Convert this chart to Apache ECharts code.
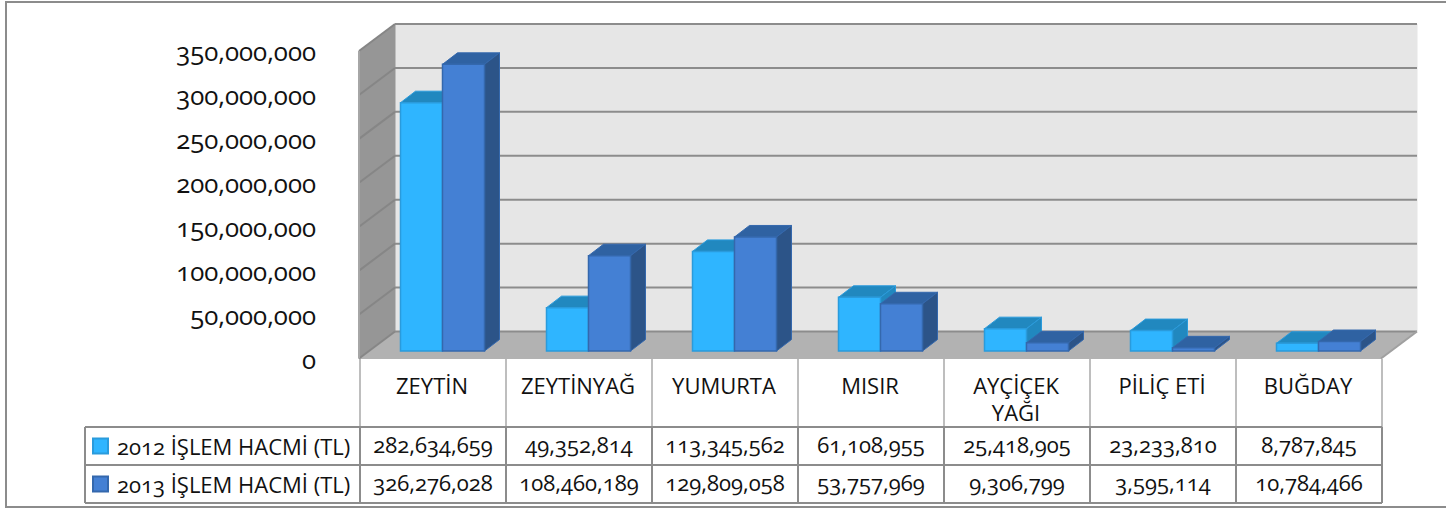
<!DOCTYPE html>
<html>
<head>
<meta charset="utf-8">
<style>
	html, body { margin: 0; padding: 0; background: #fff; }
	#chart { width: 1446px; height: 509px; font-feature-settings: "onum" 1; font-variant-numeric: oldstyle-nums; }
	#chart text { font-feature-settings: "onum" 1 !important; font-variant-numeric: oldstyle-nums !important; }
</style>
<script src="https://cdn.jsdelivr.net/npm/echarts@6/dist/echarts.min.js"></script>
</head>
<body>
<div id="chart"></div>
<script>
	const categories = ['ZEYTİN', 'ZEYTİNYAĞ', 'YUMURTA', 'MISIR', 'AYÇİÇEK\nYAĞI', 'PİLİÇ ETİ', 'BUĞDAY']
	const values2012 = [282634659, 49352814, 113345562, 61108955, 25418905, 23233810, 8787845]
	const values2013 = [326276028, 108460189, 129809058, 53757969, 9306799, 3595114, 10784466]
	const name2012 = '2012 İŞLEM HACMİ (TL)'
	const name2013 = '2013 İŞLEM HACMİ (TL)'
	const tickValues = [0, 50000000, 100000000, 150000000, 200000000, 250000000, 300000000, 350000000]

	const FONT = 'Open Sans'
	// derinlik: duvar ve sütun kaydırmaları
	const WALL_DX = 36, WALL_DY = -27
	const BAR_SHIFT_X = 10.5, BAR_SHIFT_Y = -7.5
	const BAR_W = 42, BAR_DX = 15, BAR_DY = -11.5
	const TABLE_BOTTOM = 503, ROW_Y = [427, 465, 503], HEAD_Y = 359, TABLE_LEFT = 85

	const fmt = (v) => v.toLocaleString('en-US')

	function line(x1, y1, x2, y2, stroke, width) {
		return { type: 'line', shape: { x1, y1, x2, y2 }, style: { stroke, lineWidth: width } }
	}
	function poly(points, fill, stroke) {
		return { type: 'polygon', shape: { points }, style: { fill, stroke: stroke || fill, lineWidth: 1 } }
	}

	// duvarlar, taban ve ızgara çizgileri
	function renderWalls(params, api) {
		const children = []
		const bl = api.coord([0, 0]), tl = api.coord([0, 350000000])
		const band = api.size([1, 0])[0]
		const x0 = bl[0] - band / 2, x1 = x0 + band * categories.length
		const y0 = bl[1], yT = tl[1]
		// arka duvar
		children.push(poly([[x0 + WALL_DX, yT + WALL_DY], [x1 + WALL_DX, yT + WALL_DY], [x1 + WALL_DX, y0 + WALL_DY], [x0 + WALL_DX, y0 + WALL_DY]], '#e6e6e6'))
		// sol duvar
		children.push(poly([[x0, yT], [x0 + WALL_DX, yT + WALL_DY], [x0 + WALL_DX, y0 + WALL_DY], [x0, y0]], '#969696'))
		// taban
		children.push(poly([[x0, y0], [x0 + WALL_DX, y0 + WALL_DY], [x1 + WALL_DX, y0 + WALL_DY], [x1, y0]], '#b2b2b2'))
		tickValues.forEach((t) => {
			const y = api.coord([0, t])[1]
			children.push(line(x0, y, x0 + WALL_DX, y + WALL_DY, '#868686', 2))
			children.push(line(x0 + WALL_DX, y + WALL_DY, x1 + WALL_DX, y + WALL_DY, '#8c8c8c', 2))
		})
		children.push(line(x0, yT, x0, y0, '#a6a6a6', 2))
		children.push(line(x1, y0, x1 + WALL_DX, y0 + WALL_DY, '#a0a0a0', 2))
		return { type: 'group', children }
	}

	// tablo çizgileri
	function renderTable(params, api) {
		const children = []
		const bl = api.coord([0, 0])
		const band = api.size([1, 0])[0]
		const x0 = bl[0] - band / 2 + 1
		for (let i = 0; i <= categories.length; i++) {
			const x = x0 + band * i
			children.push(line(x, HEAD_Y, x, ROW_Y[0], '#a8a8a8', 1.5))
			children.push(line(x, ROW_Y[0], x, TABLE_BOTTOM, '#8c8c8c', 2))
		}
		children.push(line(TABLE_LEFT, ROW_Y[0], TABLE_LEFT, TABLE_BOTTOM, '#8c8c8c', 2))
		ROW_Y.forEach((y) => {
			children.push(line(TABLE_LEFT, y, x0 + band * categories.length, y, '#8c8c8c', 2))
		})
		return { type: 'group', children }
	}

	// 3B sütun + tablo hücresi
	function makeBarRenderer(side, row, front, top, right, edge) {
		return function (params, api) {
			const i = api.value(0)
			const v = api.value(1)
			const base = api.coord([i, 0])
			const head = api.coord([i, v])
			const x = base[0] + BAR_SHIFT_X + (side === 0 ? -BAR_W : 0)
			const yb = base[1] + BAR_SHIFT_Y
			const yt = head[1] + BAR_SHIFT_Y
			return {
				type: 'group',
				children: [
					poly([[x, yt], [x + BAR_DX, yt + BAR_DY], [x + BAR_W + BAR_DX, yt + BAR_DY], [x + BAR_W, yt]], top, edge),
					poly([[x + BAR_W, yt], [x + BAR_W + BAR_DX, yt + BAR_DY], [x + BAR_W + BAR_DX, yb + BAR_DY], [x + BAR_W, yb]], right, edge),
					{ type: 'rect', shape: { x, y: yt, width: BAR_W, height: yb - yt }, style: { fill: front, stroke: edge, lineWidth: 1.5 } },
					{
						type: 'text',
						style: {
							x: base[0] + 1,
							y: (ROW_Y[row] + ROW_Y[row + 1]) / 2 - 2,
							text: fmt(v),
							fill: '#111',
							fontFamily: FONT,
							fontSize: 22,
							align: 'center',
							verticalAlign: 'middle'
						}
					}
				]
			}
		}
	}

	const myChart = echarts.init(document.getElementById('chart'), null, { renderer: 'svg' })
	myChart.setOption({
		animation: false,
		backgroundColor: '#fff',
		textStyle: { fontFamily: FONT },
		graphic: [{
			type: 'rect',
			z: -10,
			shape: { x: 6, y: 2, width: 1460, height: 505 },
			style: { fill: '#fff', stroke: '#8c8c8c', lineWidth: 2 }
		}],
		legend: {
			data: [name2012, name2013],
			orient: 'vertical',
			left: 87,
			top: 430,
			itemWidth: 15,
			itemHeight: 15,
			itemGap: 16,
			icon: 'rect',
			textStyle: { fontFamily: FONT, fontSize: 22, color: '#111', padding: [0, 0, 0, 4] }
		},
		grid: { left: 359, top: 51, width: 1022, height: 307.5 },
		xAxis: {
			type: 'category',
			data: categories,
			axisLine: { show: false },
			axisTick: { show: false },
			axisLabel: { interval: 0, margin: 13, fontSize: 22, color: '#111', lineHeight: 27, fontFamily: FONT }
		},
		yAxis: {
			type: 'value',
			min: 0,
			max: 350000000,
			interval: 50000000,
			axisLine: { show: false },
			axisTick: { show: false },
			splitLine: { show: false },
			axisLabel: { margin: 43, fontSize: 25.8, color: '#111', fontFamily: FONT, formatter: fmt }
		},
		series: [
			{ name: 'walls', type: 'custom', renderItem: renderWalls, data: [[0, 0]], silent: true, z: 1 },
			{ name: 'table', type: 'custom', renderItem: renderTable, data: [[0, 0]], silent: true, z: 1 },
			{
				name: name2012,
				type: 'custom',
				z: 2,
				renderItem: makeBarRenderer(0, 0, '#2fb5ff', '#2188bf', '#2188bf', '#2a9bdc'),
				itemStyle: { color: '#2fb5ff', borderColor: '#2a9bdc', borderWidth: 1 },
				data: values2012.map((v, i) => [i, v])
			},
			{
				name: name2013,
				type: 'custom',
				z: 3,
				renderItem: makeBarRenderer(1, 1, '#4480d4', '#2f62a2', '#2c5488', '#3468ad'),
				itemStyle: { color: '#4480d4', borderColor: '#3468ad', borderWidth: 1 },
				data: values2013.map((v, i) => [i, v])
			}
		]
	})
</script>
</body>
</html>
